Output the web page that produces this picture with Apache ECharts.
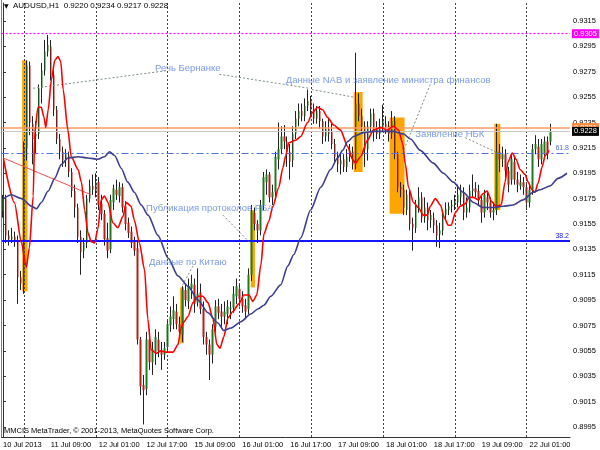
<!DOCTYPE html>
<html><head><meta charset="utf-8">
<script src="https://cdn.jsdelivr.net/npm/echarts@6/dist/echarts.min.js"></script>
<style>html,body{margin:0;padding:0;background:#fff}#c{width:600px;height:450px}</style>
</head><body><div id="c"></div>
<script>
const symbol = 'AUDUSD,H1';
const tickLabels = ['10 Jul 2013','11 Jul 09:00','12 Jul 01:00','12 Jul 17:00','15 Jul 09:00','16 Jul 01:00','16 Jul 17:00','17 Jul 09:00','18 Jul 01:00','18 Jul 17:00','19 Jul 09:00','22 Jul 01:00'];
const yTicks = [0.8995,0.9015,0.9035,0.9055,0.9075,0.9095,0.9115,0.9135,0.9155,0.9175,0.9195,0.9215,0.9235,0.9255,0.9275,0.9295,0.9315];
// [open, high, low, close]
const candles = [
[0.9165,0.9178,0.9160,0.9175],[0.9175,0.9178,0.9140,0.9146],[0.9146,0.9150,0.9138,0.9143],[0.9143,0.9152,0.9140,0.9145],
[0.9145,0.9149,0.9137,0.9141],[0.9142,0.9146,0.9092,0.9113],[0.9113,0.9118,0.9103,0.9108],[0.9108,0.9220,0.9100,0.9215],
[0.9215,0.9284,0.9205,0.9280],[0.9280,0.9283,0.9225,0.9235],[0.9234,0.9240,0.9202,0.9222],[0.9224,0.9236,0.9210,0.9226],
[0.9226,0.9265,0.9222,0.9262],[0.9262,0.9282,0.9250,0.9276],[0.9276,0.9300,0.9272,0.9291],[0.9291,0.9304,0.9287,0.9296],
[0.9295,0.9300,0.9268,0.9272],[0.9272,0.9276,0.9240,0.9245],[0.9245,0.9248,0.9218,0.9222],[0.9222,0.9226,0.9206,0.9212],
[0.9212,0.9216,0.9200,0.9205],[0.9205,0.9214,0.9200,0.9210],[0.9209,0.9212,0.9192,0.9196],[0.9196,0.9199,0.9176,0.9181],
[0.9181,0.9186,0.9160,0.9168],[0.9168,0.9171,0.9140,0.9145],[0.9145,0.9150,0.9115,0.9133],[0.9134,0.9144,0.9128,0.9140],
[0.9140,0.9178,0.9136,0.9175],[0.9175,0.9190,0.9172,0.9185],[0.9185,0.9194,0.9178,0.9182],[0.9181,0.9195,0.9176,0.9188],
[0.9188,0.9192,0.9166,0.9170],[0.9171,0.9178,0.9158,0.9163],[0.9163,0.9166,0.9138,0.9143],[0.9144,0.9156,0.9128,0.9134],
[0.9135,0.9178,0.9132,0.9174],[0.9172,0.9186,0.9166,0.9183],[0.9182,0.9190,0.9174,0.9178],[0.9177,0.9188,0.9172,0.9184],
[0.9184,0.9187,0.9164,0.9168],[0.9169,0.9173,0.9150,0.9155],[0.9156,0.9160,0.9144,0.9148],[0.9149,0.9153,0.9136,0.9140],
[0.9141,0.9145,0.9130,0.9134],[0.9136,0.9141,0.9060,0.9064],[0.9064,0.9066,0.9020,0.9027],[0.9028,0.9036,0.8997,0.9024],
[0.9025,0.9070,0.9020,0.9064],[0.9064,0.9072,0.9040,0.9046],[0.9046,0.9062,0.9036,0.9056],[0.9054,0.9072,0.9044,0.9066],
[0.9064,0.9070,0.9050,0.9055],[0.9055,0.9062,0.9040,0.9052],[0.9052,0.9062,0.9048,0.9057],[0.9058,0.9080,0.9055,0.9076],
[0.9075,0.9090,0.9070,0.9082],[0.9080,0.9098,0.9072,0.9087],[0.9086,0.9092,0.9072,0.9076],[0.9076,0.9082,0.9066,0.9070],
[0.9068,0.9106,0.9062,0.9103],[0.9103,0.9108,0.9090,0.9095],[0.9094,0.9112,0.9088,0.9106],[0.9104,0.9115,0.9096,0.9108],
[0.9107,0.9112,0.9085,0.9092],[0.9093,0.9120,0.9090,0.9100],[0.9101,0.9108,0.9084,0.9088],[0.9088,0.9094,0.9060,0.9066],
[0.9066,0.9070,0.9052,0.9060],[0.9060,0.9064,0.9032,0.9052],[0.9052,0.9076,0.9045,0.9072],[0.9074,0.9095,0.9070,0.9090],
[0.9090,0.9096,0.9080,0.9085],[0.9086,0.9092,0.9074,0.9082],[0.9082,0.9094,0.9076,0.9086],[0.9084,0.9095,0.9076,0.9090],
[0.9088,0.9094,0.9080,0.9089],[0.9089,0.9106,0.9085,0.9100],[0.9098,0.9112,0.9092,0.9106],[0.9104,0.9108,0.9090,0.9096],
[0.9096,0.9102,0.9085,0.9090],[0.9091,0.9096,0.9080,0.9086],[0.9088,0.9120,0.9084,0.9115],[0.9115,0.9170,0.9110,0.9165],
[0.9164,0.9168,0.9150,0.9155],[0.9155,0.9158,0.9140,0.9150],[0.9150,0.9174,0.9146,0.9170],[0.9170,0.9196,0.9166,0.9192],
[0.9188,0.9198,0.9178,0.9194],[0.9194,0.9196,0.9172,0.9176],[0.9176,0.9186,0.9170,0.9180],[0.9180,0.9212,0.9176,0.9208],
[0.9206,0.9235,0.9198,0.9214],[0.9214,0.9232,0.9210,0.9224],[0.9224,0.9233,0.9214,0.9220],[0.9220,0.9224,0.9200,0.9212],
[0.9212,0.9218,0.9190,0.9204],[0.9205,0.9232,0.9200,0.9226],[0.9226,0.9244,0.9222,0.9238],[0.9238,0.9250,0.9232,0.9244],
[0.9244,0.9250,0.9236,0.9240],[0.9240,0.9254,0.9236,0.9248],[0.9248,0.9261,0.9244,0.9252],[0.9252,0.9256,0.9240,0.9245],
[0.9246,0.9250,0.9234,0.9238],[0.9238,0.9248,0.9234,0.9244],[0.9244,0.9248,0.9230,0.9236],[0.9236,0.9238,0.9218,0.9224],
[0.9224,0.9236,0.9220,0.9230],[0.9230,0.9238,0.9220,0.9226],[0.9228,0.9234,0.9214,0.9218],[0.9218,0.9222,0.9204,0.9208],
[0.9208,0.9212,0.9196,0.9202],[0.9202,0.9210,0.9194,0.9205],[0.9206,0.9210,0.9196,0.9200],[0.9200,0.9214,0.9196,0.9208],
[0.9208,0.9218,0.9204,0.9213],[0.9212,0.9216,0.9198,0.9202],[0.9202,0.9290,0.9198,0.9250],[0.9250,0.9258,0.9236,0.9240],
[0.9240,0.9246,0.9226,0.9232],[0.9232,0.9236,0.9200,0.9214],[0.9214,0.9236,0.9205,0.9232],[0.9232,0.9246,0.9228,0.9242],
[0.9242,0.9246,0.9220,0.9230],[0.9230,0.9236,0.9222,0.9226],[0.9226,0.9238,0.9222,0.9232],[0.9230,0.9249,0.9228,0.9236],
[0.9234,0.9240,0.9226,0.9230],[0.9232,0.9236,0.9220,0.9226],[0.9226,0.9244,0.9222,0.9236],[0.9236,0.9240,0.9206,0.9210],
[0.9210,0.9212,0.9180,0.9184],[0.9184,0.9188,0.9176,0.9182],[0.9182,0.9186,0.9162,0.9168],[0.9166,0.9182,0.9162,0.9178],
[0.9178,0.9182,0.9150,0.9155],[0.9155,0.9160,0.9134,0.9152],[0.9152,0.9174,0.9148,0.9170],[0.9168,0.9184,0.9164,0.9176],
[0.9176,0.9180,0.9156,0.9160],[0.9160,0.9176,0.9156,0.9168],[0.9168,0.9172,0.9150,0.9158],[0.9158,0.9166,0.9152,0.9162],
[0.9160,0.9164,0.9148,0.9154],[0.9154,0.9158,0.9137,0.9146],[0.9147,0.9156,0.9136,0.9150],[0.9150,0.9166,0.9146,0.9162],
[0.9162,0.9172,0.9158,0.9167],[0.9166,0.9172,0.9162,0.9169],[0.9169,0.9174,0.9164,0.9170],[0.9170,0.9178,0.9166,0.9173],
[0.9172,0.9186,0.9168,0.9178],[0.9176,0.9186,0.9170,0.9181],[0.9180,0.9184,0.9158,0.9164],[0.9164,0.9176,0.9160,0.9168],
[0.9168,0.9186,0.9164,0.9181],[0.9181,0.9194,0.9176,0.9183],[0.9183,0.9188,0.9176,0.9180],[0.9181,0.9186,0.9170,0.9174],
[0.9174,0.9178,0.9156,0.9164],[0.9164,0.9182,0.9160,0.9178],[0.9176,0.9180,0.9166,0.9172],[0.9172,0.9176,0.9160,0.9164],
[0.9164,0.9172,0.9158,0.9166],[0.9166,0.9234,0.9162,0.9212],[0.9212,0.9218,0.9196,0.9206],[0.9206,0.9216,0.9200,0.9210],
[0.9210,0.9214,0.9190,0.9197],[0.9197,0.9200,0.9180,0.9186],[0.9190,0.9210,0.9186,0.9206],[0.9204,0.9208,0.9186,0.9190],
[0.9190,0.9196,0.9180,0.9186],[0.9185,0.9194,0.9182,0.9188],[0.9188,0.9192,0.9178,0.9184],[0.9184,0.9188,0.9166,0.9172],
[0.9172,0.9186,0.9168,0.9182],[0.9182,0.9218,0.9178,0.9214],[0.9214,0.9225,0.9210,0.9218],[0.9216,0.9222,0.9200,0.9206],
[0.9206,0.9222,0.9202,0.9218],[0.9210,0.9224,0.9206,0.9220],[0.9220,0.9224,0.9206,0.9210],[0.9220,0.9234,0.9217,0.9228]
];
// [bar position, value]
const redMA = [[0.2,0.9206],[3.8,0.9172],[6.2,0.9140],[7.8,0.9121],[8.8,0.9136],[10.1,0.9177],[10.6,0.9227],[11.7,0.9247],[12.8,0.9247],[13.7,0.9239],[14.3,0.9231],[15.1,0.9245],[16.2,0.9269],[17.3,0.9284],[18.4,0.9287],[19.3,0.9283],[20.1,0.9261],[21.7,0.9229],[22.8,0.9208],[25.1,0.9198],[26.2,0.9188],[27.3,0.9166],[28.4,0.9148],[29.5,0.9141],[30.6,0.9140],[31.7,0.9151],[32.8,0.9174],[33.9,0.9177],[35.1,0.9172],[36.7,0.9156],[38.4,0.9152],[40.1,0.9161],[41.2,0.9172],[42.8,0.9169],[43.9,0.9158],[45.6,0.9140],[47.3,0.9119],[48.4,0.9080],[49.5,0.9056],[51.2,0.9053],[52.8,0.9055],[54.5,0.9054],[56.8,0.9054],[58.5,0.9060],[59.5,0.9073],[60.5,0.9078],[61.8,0.9082],[63.5,0.9093],[65.2,0.9098],[66.8,0.9098],[68.5,0.9093],[70.2,0.9080],[71.5,0.9060],[72.5,0.9057],[73.8,0.9066],[75.2,0.9081],[76.8,0.9086],[78.8,0.9092],[80.5,0.9099],[82.2,0.9099],[83.5,0.9094],[84.8,0.9099],[86.2,0.9123],[87.2,0.9147],[88.8,0.9157],[90.2,0.9169],[92.2,0.9184],[93.5,0.9199],[94.5,0.9209],[95.5,0.9219],[97.8,0.9221],[99.5,0.9224],[101.8,0.9235],[103.5,0.9243],[105.2,0.9247],[106.8,0.9245],[108.5,0.9239],[110.5,0.9233],[112.8,0.9229],[115.2,0.9216],[116.8,0.9206],[117.8,0.9203],[119.5,0.9208],[121.8,0.9221],[123.8,0.9229],[126.2,0.9231],[128.5,0.9229],[130.5,0.9232],[132.2,0.9229],[133.5,0.9219],[134.5,0.9202],[135.5,0.9184],[137.2,0.9172],[138.8,0.9168],[140.5,0.9162],[141.8,0.9162],[142.8,0.9169],[144.5,0.9175],[146.2,0.9170],[147.5,0.9160],[148.8,0.9154],[149.8,0.9154],[151.2,0.9164],[152.8,0.9169],[154.5,0.9171],[155.8,0.9176],[157.2,0.9176],[158.8,0.9174],[160.5,0.9179],[161.8,0.9181],[163.2,0.9173],[164.8,0.9169],[166.5,0.9170],[167.8,0.9188],[168.8,0.9204],[170.2,0.9211],[171.5,0.9206],[172.8,0.9198],[174.5,0.9194],[175.5,0.9188],[176.8,0.9182],[177.8,0.9180],[178.8,0.9187],[180.2,0.9200],[181.2,0.9209],[182.5,0.9213]];
const navyMA = [[0.2,0.9175],[2.8,0.9178],[6.2,0.9175],[9.5,0.9169],[11.2,0.9167],[12.8,0.9172],[15.1,0.9181],[17.3,0.9191],[19.5,0.9202],[21.7,0.9207],[25.1,0.9208],[28.4,0.9207],[31.7,0.9206],[33.9,0.9208],[35.6,0.9212],[37.3,0.9209],[39.5,0.9199],[41.7,0.9188],[43.9,0.9180],[46.2,0.9170],[48.5,0.9162],[51.8,0.9146],[55.2,0.9128],[58.5,0.9114],[61.8,0.9106],[65.2,0.9095],[68.5,0.9085],[71.8,0.9077],[73.8,0.9071],[76.2,0.9073],[79.5,0.9078],[82.8,0.9084],[85.2,0.9088],[87.2,0.9091],[89.5,0.9098],[92.8,0.9107],[95.2,0.9122],[97.2,0.9131],[99.5,0.9144],[102.8,0.9166],[106.2,0.9184],[109.5,0.9198],[111.8,0.9207],[113.5,0.9213],[115.2,0.9220],[117.2,0.9224],[120.5,0.9227],[123.8,0.9228],[127.2,0.9228],[130.5,0.9228],[133.8,0.9226],[136.2,0.9222],[139.5,0.9213],[143.8,0.9203],[147.2,0.9195],[150.5,0.9188],[153.8,0.9180],[157.2,0.9172],[160.5,0.9168],[163.8,0.9168],[167.2,0.9169],[170.5,0.9170],[173.8,0.9174],[177.2,0.9180],[179.5,0.9182],[182.8,0.9185],[185.5,0.9191],[188.5,0.9195]];
const dayBreaks = [7,31,55,79,103,127,151,175];
const levelPink = 0.9305, levelOrange = 0.9231, levelBid = 0.9228, fib618 = 0.9211, fib382 = 0.9142;
// [barFrom, barTo, priceLow, priceHigh]
const zones = [[6.4,8.2,0.9102,0.9284],[59.2,60.5,0.9061,0.9105],[82.8,84.2,0.9105,0.9166],[117.2,120.2,0.9196,0.9259],[129.2,134.2,0.9163,0.9239],[164.2,166.2,0.9166,0.9234]];
const notes = [
  ['Речь Бернанке', 50.8, 0.9278],
  ['Данные NAB и заявление министра финансов', 94.5, 0.92685],
  ['Заявление НБК', 137.8, 0.9226],
  ['Публикация протоколов РБА', 47.8, 0.9167],
  ['Данные по Китаю', 48.8, 0.9125]
];
const leaders = [
  [[10.1,0.9262],[55.1,0.9276]],
  [[72.3,0.9273],[102.3,0.9262]],
  [[103.2,0.9261],[117.2,0.9255]],
  [[142.8,0.9265],[133.9,0.9213]],
  [[154.5,0.9223],[164.5,0.9212]],
  [[73.5,0.9162],[82.2,0.9141]],
  [[63.5,0.9122],[59.8,0.9106]]
];
const trendLine = [[0.1,0.9207],[29.5,0.9178]];
const footer = 'MMCIS MetaTrader, © 2001-2013, MetaQuotes Software Corp.';

const FONT = '"Liberation Sans", Arial, sans-serif';
const N = 190;
const cats = Array.from({length: N}, (_, i) => i);
const showTick = (i) => i % 16 === 0 && i / 16 < tickLabels.length;
const last = candles[candles.length - 1];

const chart = echarts.init(document.getElementById('c'), null, {renderer: 'canvas'});
const priceBox = (bg, fg, v) => ({show: true, position: 'end', distance: 2, backgroundColor: bg, color: fg,
  padding: [1, 2, 0, 2], fontSize: 7.5, fontFamily: FONT, formatter: v.toFixed(4)});

chart.setOption({
  animation: false,
  backgroundColor: '#fff',
  grid: {left: 0, right: 30, top: 3, bottom: 13},
  xAxis: [
    {type: 'category', data: cats, boundaryGap: true,
     axisLine: {lineStyle: {color: '#333'}},
     axisTick: {alignWithLabel: true, length: 3, interval: showTick, lineStyle: {color: '#333'}},
     axisLabel: {interval: showTick, formatter: (v, i) => tickLabels[i / 16] || '', align: 'left',
       margin: 4, fontSize: 7.5, color: '#000', fontFamily: FONT},
     splitLine: {show: false}},
    {type: 'value', min: -0.5, max: N - 0.5, show: false}
  ],
  yAxis: {type: 'value', position: 'right', min: 0.89871, max: 0.93292,
    axisLine: {show: true, lineStyle: {color: '#333'}},
    axisTick: {show: true, length: 3, customValues: yTicks, lineStyle: {color: '#333'}},
    axisLabel: {customValues: yTicks, formatter: v => v.toFixed(4), fontSize: 7.5, margin: 3, color: '#000', fontFamily: FONT},
    splitLine: {show: false}},
  series: [
    {type: 'line', xAxisIndex: 1, data: [], z: 1, silent: true,
     markArea: {silent: true, precision: 4, itemStyle: {color: '#FFA500'},
       data: zones.map(z => [{coord: [z[0], z[2]]}, {coord: [z[1], z[3]]}])},
     markLine: {silent: true, precision: 4, symbol: ['none', 'none'], label: {show: false},
       lineStyle: {color: '#444', type: [2, 2], width: 1},
       data: dayBreaks.map(b => ({xAxis: b}))}},
    {type: 'candlestick', xAxisIndex: 0, barWidth: 1, z: 3, silent: true,
     data: candles.map(r => [r[0], r[3], r[2], r[1]]),
     itemStyle: {color: '#222', color0: '#222', borderColor: '#222', borderColor0: '#222', borderWidth: 1}},
    {type: 'candlestick', xAxisIndex: 0, barWidth: 2, z: 4, silent: true,
     data: candles.map(r => [r[0], r[3], Math.min(r[0], r[3]), Math.max(r[0], r[3])]),
     itemStyle: {color: '#1e7a1e', color0: '#b3201a', borderColor: '#1e7a1e', borderColor0: '#b3201a', borderWidth: 0}},
    {type: 'lines', coordinateSystem: 'cartesian2d', xAxisIndex: 1, z: 5, silent: true,
     data: [{coords: trendLine}], lineStyle: {color: '#f05050', width: 1, opacity: 1}},
    {type: 'lines', coordinateSystem: 'cartesian2d', xAxisIndex: 1, z: 5, silent: true,
     data: leaders.map(c => ({coords: c})), lineStyle: {color: '#7d8f7d', width: 1, type: [2, 2], opacity: 1}},
    {type: 'line', xAxisIndex: 1, data: redMA, smooth: 0.25, smoothMonotone: 'x', symbol: 'none', z: 6, silent: true,
     lineStyle: {color: '#ff0000', width: 1.6}},
    {type: 'line', xAxisIndex: 1, data: navyMA, smooth: 0.25, smoothMonotone: 'x', symbol: 'none', z: 6, silent: true,
     lineStyle: {color: '#3e3e8e', width: 1.6}},
    {type: 'line', xAxisIndex: 1, data: [], z: 7, silent: true,
     markLine: {silent: true, precision: 4, symbol: ['none', 'none'],
       data: [
         {yAxis: levelPink, lineStyle: {color: '#ff00ff', type: [2, 2], width: 1.2}, label: priceBox('#ff00ff', '#fff', levelPink)},
         {yAxis: levelOrange, lineStyle: {color: '#ff9a66', type: 'solid', width: 1.5}, label: priceBox('#ff8c40', '#fff', levelOrange)},
         {yAxis: levelBid, lineStyle: {color: '#c8c8c8', type: 'solid', width: 1.2}, label: priceBox('#000', '#fff', levelBid)},
         {yAxis: fib618, lineStyle: {color: '#4f74e8', type: [7, 3, 2, 3], width: 1},
          label: {show: true, position: 'insideEndTop', distance: 1, formatter: '61.8', color: '#4a6ed8', fontSize: 7, fontFamily: FONT}},
         {yAxis: fib382, lineStyle: {color: '#1515ff', type: 'solid', width: 2},
          label: {show: true, position: 'insideEndTop', distance: 1, formatter: '38.2', color: '#1515ff', fontSize: 7, fontFamily: FONT}}
       ]}},
    {type: 'scatter', xAxisIndex: 1, z: 8, silent: true, symbolSize: 0.1, itemStyle: {color: 'transparent'},
     data: notes.map(n => ({name: n[0], value: [n[1], n[2]]})),
     label: {show: true, position: 'right', distance: 0, formatter: '{b}', color: '#5a82e0', fontSize: 9.5, fontFamily: FONT}}
  ],
  graphic: [
    {type: 'line', shape: {x1: 1.5, y1: 0, x2: 1.5, y2: 437}, style: {stroke: '#808080', lineWidth: 1}, z: 10},
    {type: 'text', left: 4, top: 3, z: 10, style: {text: '▼', font: '6px "DejaVu Sans"', fill: '#000'}},
    {type: 'text', left: 13, top: 2, z: 10, style: {text: symbol + '  ' + last.map(v => v.toFixed(4)).join(' '), font: '8px ' + FONT, fill: '#000'}},
    {type: 'text', left: 4, top: 427, z: 10, style: {text: footer, font: '7.5px ' + FONT, fill: '#000'}}
  ]
});
</script></body></html>
